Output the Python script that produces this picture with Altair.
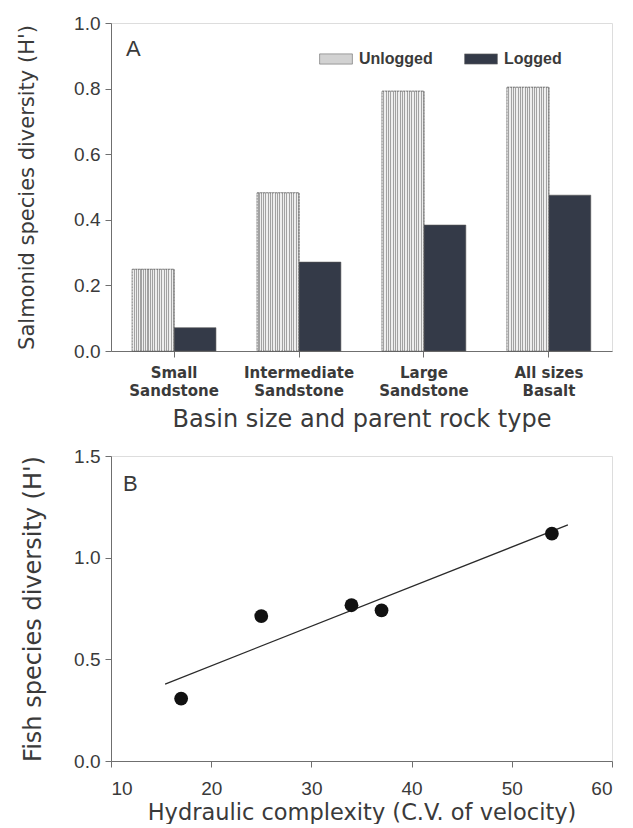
import altair as alt
import pandas as pd

# ---------------- data ----------------
categories = ["Small\nSandstone", "Intermediate\nSandstone", "Large\nSandstone", "All sizes\nBasalt"]
series = ["Unlogged", "Logged"]
unlogged = [0.249, 0.482, 0.792, 0.804]
logged = [0.071, 0.271, 0.384, 0.475]

hydraulic_cv = [17, 25, 34, 37, 54]
fish_diversity = [0.307, 0.713, 0.766, 0.741, 1.118]
fit_extent = [15.4, 55.6]

bars_df = pd.DataFrame({
    "cat": categories * 2,
    "series": [series[0]] * len(categories) + [series[1]] * len(categories),
    "value": unlogged + logged,
})
pts_df = pd.DataFrame({"cv": hydraulic_cv, "h": fish_diversity})

FONT = "Liberation Sans"
TFONT = "DejaVu Sans"
AX = "#6f6f6f"
TXT = "#3a3a3a"

# hatch-like stripe fill for the unlogged bars
stops = []
n = 18
for i in range(n):
    stops.append(alt.GradientStop(offset=i / n, color="#eeeeee"))
    stops.append(alt.GradientStop(offset=(i + 0.55) / n, color="#eeeeee"))
    stops.append(alt.GradientStop(offset=(i + 0.55) / n, color="#a2a2a2"))
    stops.append(alt.GradientStop(offset=(i + 1) / n, color="#a2a2a2"))
hatch = alt.Gradient(gradient="linear", x1=0, y1=0, x2=1, y2=0, stops=stops)

W = 501

x_a = alt.X(
    "cat:N", sort=categories,
    scale=alt.Scale(paddingInner=0.33, paddingOuter=0.17),
    axis=alt.Axis(
        title="Basin size and parent rock type", labelAngle=0,
        labelExpr="split(datum.value, '\\n')",
        labelFont=TFONT, labelFontSize=15, labelFontWeight="bold", labelColor=TXT,
        labelLineHeight=18, labelPadding=8,
        titleFont=TFONT, titleFontSize=24, titleFontWeight="normal", titleColor=TXT,
        titlePadding=9, domainColor=AX, tickColor=AX, tickSize=6,
    ),
)
xo = alt.XOffset("series:N", sort=series, scale=alt.Scale(domain=series, paddingInner=0, paddingOuter=0))
y_a = alt.Y(
    "value:Q", scale=alt.Scale(domain=[0, 1.0], nice=False),
    axis=alt.Axis(
        title="Salmonid species diversity (H')", values=[0, 0.2, 0.4, 0.6, 0.8, 1.0], format=".1f",
        grid=False, labelFont=FONT, labelFontSize=19, labelColor=TXT, labelPadding=5,
        titleFont=TFONT, titleFontSize=21, titleFontWeight="normal", titleColor=TXT,
        titlePadding=36, domainColor=AX, tickColor=AX, tickSize=6,
    ),
)

base_bars = alt.Chart(bars_df).mark_bar(stroke="#555", strokeWidth=0.6).encode(
    x=x_a, xOffset=xo, y=y_a,
    color=alt.Color(
        "series:N", sort=series,
        scale=alt.Scale(domain=series, range=["#d2d2d2", "#343a48"]),
        legend=alt.Legend(
            title=None, orient="none", legendX=214, legendY=25, direction="horizontal",
            symbolType="M-1.6,-0.5H1.6V0.5H-1.6Z", symbolSize=420, symbolStrokeWidth=0.6,
            symbolStrokeColor="#666", labelFont=FONT, labelFontSize=16, labelFontWeight="bold",
            labelColor=TXT, labelOffset=12, columnPadding=30, symbolOpacity=1,
        ),
    ),
)
hatch_bars = alt.Chart(bars_df).transform_filter(
    alt.datum.series == series[0]
).mark_bar(fill=hatch, stroke="#555", strokeWidth=0.6, strokeDash=[2, 1]).encode(
    x=x_a, xOffset=xo, y=y_a,
)
label_a = alt.Chart(pd.DataFrame({"t": ["A"]})).mark_text(
    font=FONT, fontSize=22, color=TXT, align="left", baseline="middle"
).encode(x=alt.value(15), y=alt.value(26), text="t:N")

panel_a = alt.layer(base_bars, hatch_bars, label_a).properties(width=W, height=328)

x_b = alt.X(
    "cv:Q", scale=alt.Scale(domain=[10, 60], nice=False),
    axis=alt.Axis(
        title="Hydraulic complexity (C.V. of velocity)", values=[10, 20, 30, 40, 50, 60], format="d",
        grid=False, labelFont=FONT, labelFontSize=19, labelColor=TXT, labelPadding=12,
        titleFont=TFONT, titleFontSize=22.5, titleFontWeight="normal", titleColor=TXT,
        titlePadding=3, domainColor=AX, tickColor=AX, tickSize=6,
    ),
)
y_b = alt.Y(
    "h:Q", scale=alt.Scale(domain=[0, 1.5], nice=False),
    axis=alt.Axis(
        title="Fish species diversity (H')", values=[0, 0.5, 1.0, 1.5], format=".1f",
        grid=False, labelFont=FONT, labelFontSize=19, labelColor=TXT, labelPadding=5,
        titleFont=TFONT, titleFontSize=24, titleFontWeight="normal", titleColor=TXT,
        titlePadding=28, domainColor=AX, tickColor=AX, tickSize=6,
    ),
)
points = alt.Chart(pts_df).mark_circle(size=190, color="#111111", opacity=1).encode(x=x_b, y=y_b)
fit = alt.Chart(pts_df).transform_regression(
    "cv", "h", extent=fit_extent
).mark_line(color="#2a2a2a", strokeWidth=1.3).encode(x=x_b, y=y_b)
label_b = alt.Chart(pd.DataFrame({"t": ["B"]})).mark_text(
    font=FONT, fontSize=22, color=TXT, align="left", baseline="middle"
).encode(x=alt.value(12), y=alt.value(28), text="t:N")

panel_b = alt.layer(fit, points, label_b).properties(width=W, height=305)

chart = alt.vconcat(panel_a, panel_b, spacing=14).properties(
    padding={"left": 8, "top": 5, "right": 5, "bottom": 0}
).configure_view(stroke="#8a8a8a", strokeWidth=1).configure(background="white")

chart.save("out.html", embed_options={"renderer": "svg", "actions": False})
